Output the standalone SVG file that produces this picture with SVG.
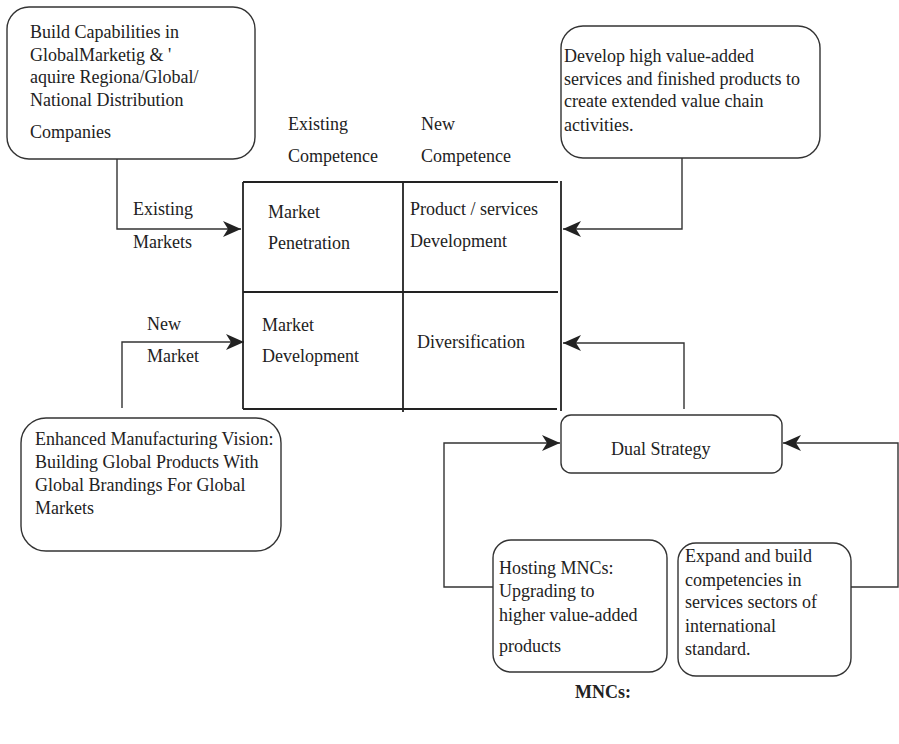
<svg xmlns="http://www.w3.org/2000/svg" width="899" height="744" viewBox="0 0 899 744">
<defs>
<style>
text{font-family:"Liberation Serif","Times New Roman",serif;font-size:18px;fill:#222;}
.b{fill:#fff;stroke:#333;stroke-width:1.4;}
.g{stroke:#222;stroke-width:1.8;fill:none;}
.c{stroke:#333;stroke-width:1.4;fill:none;}
.bold{font-weight:bold;}
</style>
<marker id="ah" viewBox="0 0 18 16" refX="18" refY="8" markerWidth="18" markerHeight="16" markerUnits="userSpaceOnUse" orient="auto">
<path d="M0,0 L18,8 L0,16 L5,8 Z" fill="#222"/>
</marker>
</defs>
<rect width="899" height="744" fill="#fff"/>

<g id="connectors">
<polyline class="c" points="117,159 117,229 241,229" marker-end="url(#ah)"/>
<polyline class="c" points="682,158 682,229 563,229" marker-end="url(#ah)"/>
<polyline class="c" points="122,408 122,342 244,342" marker-end="url(#ah)"/>
<polyline class="c" points="684,409 684,343 563,343" marker-end="url(#ah)"/>
<polyline class="c" points="493,587 444,587 444,443 560,443" marker-end="url(#ah)"/>
<polyline class="c" points="851,587 898,587 898,443 783,443" marker-end="url(#ah)"/>
</g>

<g id="matrix" font-family="Liberation Serif, serif">
<line class="g" x1="243" y1="182" x2="558" y2="182"/>
<line class="g" x1="243" y1="292" x2="558" y2="292"/>
<line class="g" x1="243" y1="409" x2="557" y2="409"/>
<line class="g" x1="243" y1="182" x2="243" y2="409"/>
<line class="g" x1="403" y1="182" x2="403" y2="412"/>
<line class="g" x1="561" y1="181" x2="561" y2="411"/>
<text x="288" y="130">Existing</text>
<text x="288" y="162">Competence</text>
<text x="421" y="130">New</text>
<text x="421" y="162">Competence</text>
<text x="268" y="218">Market</text>
<text x="268" y="249">Penetration</text>
<text x="410" y="215">Product / services</text>
<text x="410" y="247">Development</text>
<text x="262" y="331">Market</text>
<text x="262" y="362">Development</text>
<text x="417" y="348">Diversification</text>
</g>

<g id="label-existing-markets">
<text x="133" y="215">Existing</text>
<text x="133" y="248">Markets</text>
</g>
<g id="label-new-market">
<text x="147" y="330">New</text>
<text x="147" y="362">Market</text>
</g>

<g id="node-build">
<rect class="b" x="7" y="7" width="248" height="152" rx="22"/>
<text x="30" y="38">Build Capabilities in</text>
<text x="30" y="61">GlobalMarketig &amp; '</text>
<text x="30" y="83">aquire Regiona/Global/</text>
<text x="30" y="106">National Distribution</text>
<text x="30" y="138">Companies</text>
</g>

<g id="node-develop">
<rect class="b" x="561" y="26" width="259" height="132" rx="22"/>
<text x="564" y="62">Develop high value-added</text>
<text x="564" y="85">services and finished products to</text>
<text x="564" y="107">create extended value chain</text>
<text x="564" y="131">activities.</text>
</g>

<g id="node-enhanced">
<rect class="b" x="21" y="418" width="260" height="133" rx="25"/>
<text x="35" y="445">Enhanced Manufacturing Vision:</text>
<text x="35" y="468">Building Global Products With</text>
<text x="35" y="491">Global Brandings For Global</text>
<text x="35" y="514">Markets</text>
</g>

<g id="node-dual">
<rect class="b" x="561" y="415" width="221" height="58" rx="10"/>
<text x="611" y="455">Dual Strategy</text>
</g>

<g id="node-hosting">
<rect class="b" x="493" y="540" width="174" height="132" rx="18"/>
<text x="499" y="574">Hosting MNCs:</text>
<text x="499" y="597">Upgrading to</text>
<text x="499" y="621">higher value-added</text>
<text x="499" y="652">products</text>
</g>

<g id="node-expand">
<rect class="b" x="678" y="543" width="173" height="133" rx="18"/>
<text x="685" y="562">Expand and build</text>
<text x="685" y="586">competencies in</text>
<text x="685" y="608">services sectors of</text>
<text x="685" y="632">international</text>
<text x="685" y="655">standard.</text>
</g>

<g id="label-mncs">
<text class="bold" x="603" y="698" text-anchor="middle">MNCs:</text>
</g>
</svg>
